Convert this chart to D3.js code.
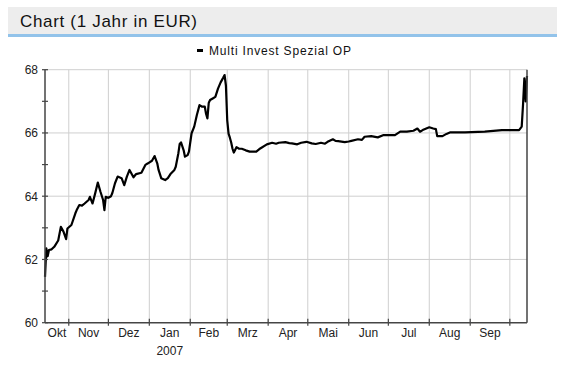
<!DOCTYPE html>
<html><head><meta charset="utf-8">
<script src="https://cdn.jsdelivr.net/npm/d3@7"></script>
<style>body{margin:0;background:#fff;}svg{display:block;}</style>
</head><body>
<svg id="c" width="565" height="383"></svg>
<script>
const title = "Chart (1 Jahr in EUR)";
const seriesName = "Multi Invest Spezial OP";
const startDate = "2006-10-14";
const endDate = "2007-10-14";
// day offsets from startDate and fund values (EUR)
const dayOffsets = [0,1,2,3,5,7,10,12,14,16,17,20,23,24,26,28,30,33,34,36,38,40,42,44,45,46,48,50,51,53,55,58,60,62,64,67,69,73,76,78,81,83,85,86,88,91,93,95,98,99,101,102,103,105,106,108,109,111,113,115,117,119,121,122,123,124,125,127,129,131,133,135,136,137,138,139,140,141,142,143,145,147,149,152,155,160,163,168,172,175,177,182,185,187,191,194,198,202,205,209,212,214,218,220,222,227,230,232,237,240,242,247,252,256,261,265,269,274,279,282,284,286,291,294,296,297,301,304,307,318,333,346,359,361,362,363,364,365];
const values = [61.45,62.35,62.1,62.3,62.32,62.4,62.6,63.03,62.88,62.64,62.98,63.09,63.46,63.56,63.72,63.7,63.77,63.88,63.98,63.77,64.09,64.43,64.14,63.88,63.56,63.98,63.95,64.0,64.1,64.41,64.62,64.57,64.35,64.62,64.83,64.6,64.7,64.74,64.99,65.04,65.12,65.27,65.04,64.83,64.57,64.51,64.57,64.7,64.83,64.93,65.36,65.65,65.7,65.45,65.25,65.3,65.41,65.99,66.2,66.57,66.88,66.83,66.83,66.6,66.46,66.95,67.04,67.09,67.14,67.4,67.6,67.75,67.83,67.5,66.4,65.98,65.85,65.7,65.5,65.38,65.55,65.5,65.5,65.45,65.41,65.41,65.51,65.64,65.69,65.66,65.69,65.71,65.68,65.67,65.64,65.69,65.72,65.67,65.65,65.69,65.66,65.72,65.8,65.75,65.74,65.71,65.73,65.75,65.8,65.78,65.88,65.9,65.86,65.93,65.93,65.93,66.04,66.04,66.07,66.14,66.04,66.09,66.18,66.14,66.12,65.9,65.9,65.97,66.02,66.02,66.04,66.09,66.09,66.2,66.9,67.73,67.0,67.8];
const yTicks = [60,62,64,66,68];
const yMinorTicks = [61,63,65,67];
const monthStarts = ["2006-10-01","2006-11-01","2006-12-01","2007-01-01","2007-02-01","2007-03-01","2007-04-01","2007-05-01","2007-06-01","2007-07-01","2007-08-01","2007-09-01","2007-10-01"];
const monthLabels = ["Okt","Nov","Dez","Jan","Feb","Mrz","Apr","Mai","Jun","Jul","Aug","Sep"];
const yearLabel = {month:"Jan", text:"2007"};

const parse = d3.utcParse("%Y-%m-%d");
const t0 = parse(startDate), t1 = parse(endDate);
const data = dayOffsets.map((d,i)=>({date:d3.utcDay.offset(t0,d), v:values[i]}));

const svg = d3.select("#c");
const L=45, R=527, T=69.7, B=322.7;
const x = d3.scaleUtc().domain([t0,t1]).range([L,R]);
const y = d3.scaleLinear().domain([60,68]).range([B,T]);
const font = "'Liberation Sans', Arial, sans-serif";

// title bar
svg.append("rect").attr("x",8).attr("y",7).attr("width",549).attr("height",27).attr("fill","#ededed");
svg.append("rect").attr("x",8).attr("y",34).attr("width",549).attr("height",3).attr("fill","#92c3ea");
svg.append("text").attr("x",20).attr("y",27).attr("font-family",font).attr("font-size",17)
  .attr("textLength",177).attr("lengthAdjust","spacing").attr("fill","#111").text(title);

// legend
svg.append("rect").attr("x",197).attr("y",49).attr("width",6).attr("height",3).attr("fill","#000");
svg.append("text").attr("x",209).attr("y",55).attr("font-family",font).attr("font-size",12)
  .attr("textLength",142).attr("lengthAdjust","spacing").attr("fill","#111").text(seriesName);

// grid
const ms = monthStarts.map(parse).filter(d=>d>t0 && d<t1);
svg.append("g").selectAll("line").data(ms).join("line")
  .attr("x1",d=>x(d)).attr("x2",d=>x(d)).attr("y1",T).attr("y2",B)
  .attr("stroke","#cfcfcf").attr("stroke-width",1);
svg.append("g").selectAll("line").data(yTicks.filter(v=>v>60)).join("line")
  .attr("x1",L).attr("x2",R).attr("y1",d=>y(d)).attr("y2",d=>y(d))
  .attr("stroke","#cfcfcf").attr("stroke-width",1);

// line
const line = d3.line().x(d=>x(d.date)).y(d=>y(d.v));
svg.append("path").datum(data).attr("d",line).attr("fill","none")
  .attr("stroke","#000").attr("stroke-width",2.2).attr("stroke-linejoin","round");

// axes
const ax = "#454545";
svg.append("line").attr("x1",L).attr("x2",L).attr("y1",T).attr("y2",B).attr("stroke",ax).attr("stroke-width",1.5);
svg.append("line").attr("x1",R).attr("x2",R).attr("y1",T).attr("y2",B).attr("stroke",ax).attr("stroke-width",1.5);
svg.append("line").attr("x1",L).attr("x2",R).attr("y1",B).attr("y2",B).attr("stroke",ax).attr("stroke-width",1.5);
svg.append("g").selectAll("line").data(yTicks.concat(yMinorTicks)).join("line")
  .attr("x1",L-3).attr("x2",L+3).attr("y1",d=>y(d)).attr("y2",d=>y(d)).attr("stroke",ax).attr("stroke-width",1.2);
svg.append("g").selectAll("line").data(ms).join("line")
  .attr("x1",d=>x(d)).attr("x2",d=>x(d)).attr("y1",B-4).attr("y2",B+3).attr("stroke",ax).attr("stroke-width",1.2);

svg.append("g").selectAll("text").data(yTicks).join("text")
  .attr("x",L-7).attr("y",d=>y(d)+4.5).attr("text-anchor","end")
  .attr("font-family",font).attr("font-size",12).attr("fill","#222").text(d=>d);

const mAll = monthStarts.map(parse);
const labs = monthLabels.map((m,i)=>{
  const a = mAll[i] < t0 ? t0 : mAll[i];
  const b = mAll[i+1] > t1 ? t1 : mAll[i+1];
  return {m, cx:(x(a)+x(b))/2};
});
svg.append("g").selectAll("text").data(labs).join("text")
  .attr("x",d=>d.cx).attr("y",337).attr("text-anchor","middle")
  .attr("font-family",font).attr("font-size",12).attr("fill","#222").text(d=>d.m);
const yl = labs.find(d=>d.m===yearLabel.month);
svg.append("text").attr("x",yl.cx).attr("y",355).attr("text-anchor","middle")
  .attr("font-family",font).attr("font-size",12).attr("fill","#222").text(yearLabel.text);
</script>
</body></html>
